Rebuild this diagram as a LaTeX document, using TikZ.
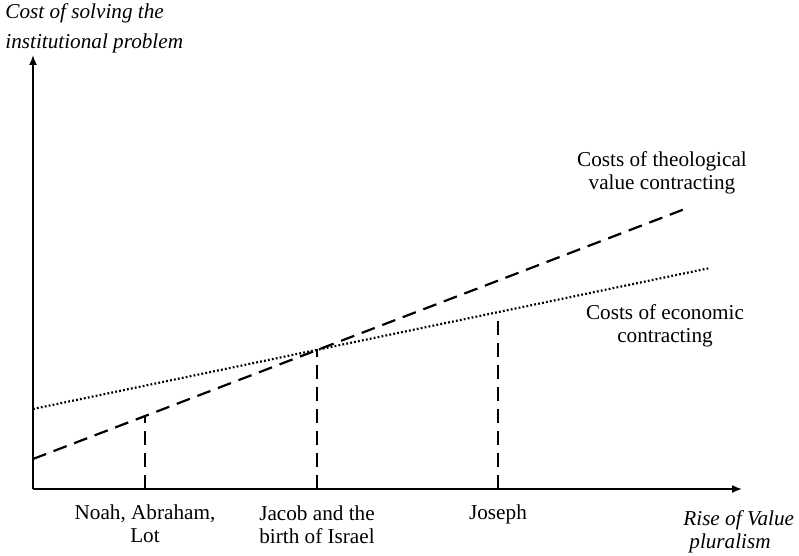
\documentclass[tikz,border=0pt]{standalone}
\usepackage{fontspec}
\setmainfont{Liberation Serif}
\usetikzlibrary{positioning,arrows.meta}

\begin{document}
\begin{tikzpicture}[x=0.5pt, y=-0.5pt,
    every node/.style={font=\fontsize{10.6}{11.5}\selectfont, align=center, inner sep=0pt},
    axis/.style={line width=0.8pt, -{Latex[length=5pt,width=4pt]}},
    theo/.style={line width=1.1pt, dash pattern=on 7pt off 4pt},
    econ/.style={line width=1.1pt, dash pattern=on 0.9pt off 1.1pt},
    drop/.style={line width=1.1pt, dash pattern=on 7pt off 4pt},
    axlabel/.style={font=\fontsize{10.6}{11.5}\selectfont\itshape, align=left}]

\useasboundingbox (0,0) rectangle (799,556);

% axes
\coordinate (o) at (33,489);
\coordinate (ytop) at (33,55);
\coordinate (xend) at (742,489);
\draw[axis] (o) -- (ytop);
\draw[axis] (o) -- (xend);

% the two cost lines
\coordinate (theoA) at (33,459);
\coordinate (theoB) at (690,207);
\coordinate (econA) at (33,409);
\coordinate (econB) at (710,268);
\draw[theo] (theoA) -- (theoB);
\draw[econ] (econA) -- (econB);

% stages
\coordinate (noahT) at (145,416);
\coordinate (noahB) at (145,489);
\coordinate (jacobT) at (317,349);
\coordinate (jacobB) at (317,489);
\coordinate (josephT) at (498,314);
\coordinate (josephB) at (498,489);
\draw[drop] (noahB) -- (noahT);
\draw[drop] (jacobB) -- (jacobT);
\draw[drop] (josephB) -- (josephT);

\node (noah) at (145,524) {Noah, Abraham,\\Lot};
\node (jacob) at (317,525) {Jacob and the\\birth of Israel};
\node (joseph) at (498,514) {Joseph};

% labels
\node[axlabel, anchor=west, font=\fontsize{10.6}{15}\selectfont\itshape] (ylab) at (5,28) {Cost of solving the\\institutional problem};
\node[axlabel, anchor=west] (xlab) at (683,532) {Rise of Value\\\hspace*{3pt}pluralism};
\node (theolab) at (662,173) {Costs of theological\\value contracting};
\node (econlab) at (665,326) {Costs of economic\\contracting};

\end{tikzpicture}
\end{document}
